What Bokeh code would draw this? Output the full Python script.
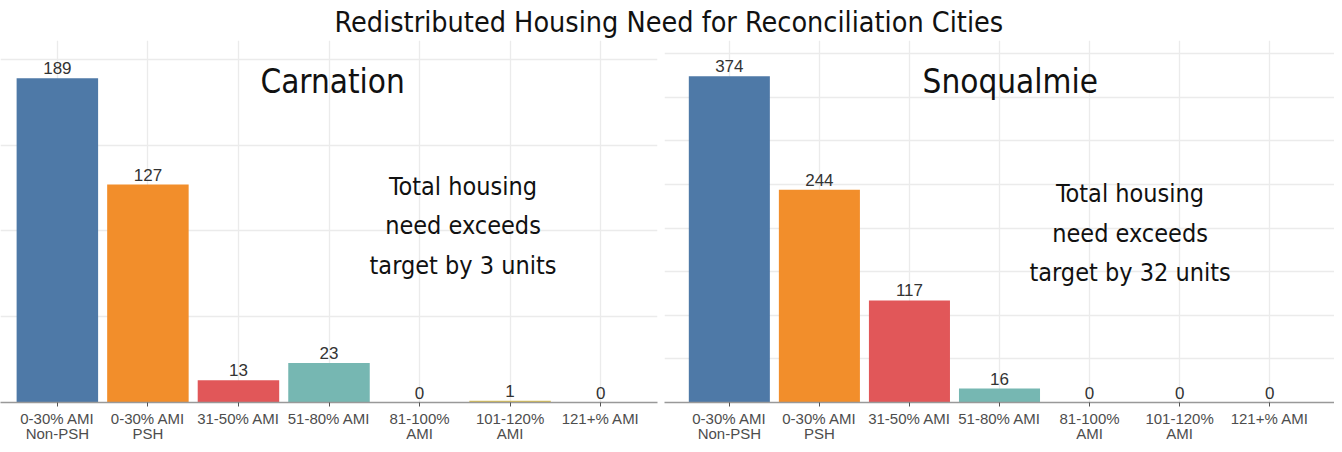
from bokeh.plotting import figure
from bokeh.models import (ColumnDataSource, FactorRange, Range1d, LabelSet, Label,
                          SingleIntervalTicker)
from bokeh.core.properties import value
from bokeh.layouts import column, row
from bokeh.embed import file_html
from bokeh.resources import INLINE

# ---- data ----
categories = ["0-30% AMI\nNon-PSH", "0-30% AMI\nPSH", "31-50% AMI", "51-80% AMI",
              "81-100%\nAMI", "101-120%\nAMI", "121+% AMI"]
carnation = [189, 127, 13, 23, 0, 1, 0]
snoqualmie = [374, 244, 117, 16, 0, 0, 0]
bar_colors = ["#4e79a7", "#f28e2b", "#e15759", "#76b7b2", "#59a14f", "#d8bf55", "#b07aa1"]

title_text = "Redistributed Housing Need for Reconciliation Cities"
cities = ["Carnation", "Snoqualmie"]
notes = ["Total housing\nneed exceeds\ntarget by 3 units",
         "Total housing\nneed exceeds\ntarget by 32 units"]

COND = "DejaVu Sans Condensed"
SANS = "Liberation Sans"


def panel(values, city, note, width, ymax, pad, border_right, city_x, city_y, note_x, note_y):
    src = ColumnDataSource(dict(cat=categories, val=values, color=bar_colors,
                                label=[str(v) for v in values]))
    p = figure(x_range=FactorRange(*categories, range_padding=pad,
                                   range_padding_units="absolute"),
               y_range=Range1d(0, ymax), width=width, height=404,
               output_backend="svg", toolbar_location=None,
               min_border_left=0, min_border_right=border_right,
               min_border_top=0, min_border_bottom=40)
    p.outline_line_color = None
    p.vbar(x="cat", top="val", width=0.9, color="color", line_color=None, source=src)
    p.add_layout(LabelSet(x="cat", y="val", text="label", source=src,
                          text_align="center", text_baseline="bottom", y_offset=4,
                          text_font=value(SANS), text_font_size=value("17px"),
                          text_color="#333333"))
    p.add_layout(Label(x=city_x, y=city_y, text=city, text_align="center",
                       text_baseline="middle", text_font=COND,
                       text_font_size="33px", text_color="#111111"))
    p.add_layout(Label(x=note_x, y=note_y, text=note, text_align="center",
                       text_baseline="middle", text_font=COND,
                       text_font_size="25px", text_color="#111111",
                       text_line_height=1.36))
    p.yaxis.visible = False
    p.ygrid.ticker = SingleIntervalTicker(interval=50)
    p.grid.grid_line_color = "#ebebeb"
    p.grid.grid_line_width = 1.3
    ax = p.xaxis[0]
    ax.axis_label = None
    ax.axis_label_standoff = 0
    ax.axis_line_color = "#999999"
    ax.axis_line_width = 1.3
    ax.major_tick_line_color = "#555555"
    ax.major_tick_out = 4
    ax.major_tick_in = 0
    ax.minor_tick_line_color = None
    ax.major_label_text_font = SANS
    ax.major_label_text_font_size = "15px"
    ax.major_label_text_color = "#4d4d4d"
    ax.major_label_standoff = 3
    ax.major_label_text_line_height = 0.9
    return p


p1 = panel(carnation, cities[0], notes[0], 664, 211, 0.128, 7, 3.54, 187, 4.98, 103)
p2 = panel(snoqualmie, cities[1], notes[1], 670, 415, 0.22, 0, 3.62, 368, 4.95, 194)

t = figure(width=1334, height=40, x_range=Range1d(0, 1), y_range=Range1d(0, 1),
           output_backend="svg", toolbar_location=None,
           min_border_left=0, min_border_right=0, min_border_top=0, min_border_bottom=0)
t.outline_line_color = None
t.axis.visible = False
t.grid.visible = False
t.add_layout(Label(x=0.501, y=0.46, text=title_text, text_align="center",
                   text_baseline="middle", text_font=COND,
                   text_font_size="28.5px", text_color="#111111"))

layout = column(t, row(p1, p2))
open("out.html", "w").write(file_html(layout, INLINE))
